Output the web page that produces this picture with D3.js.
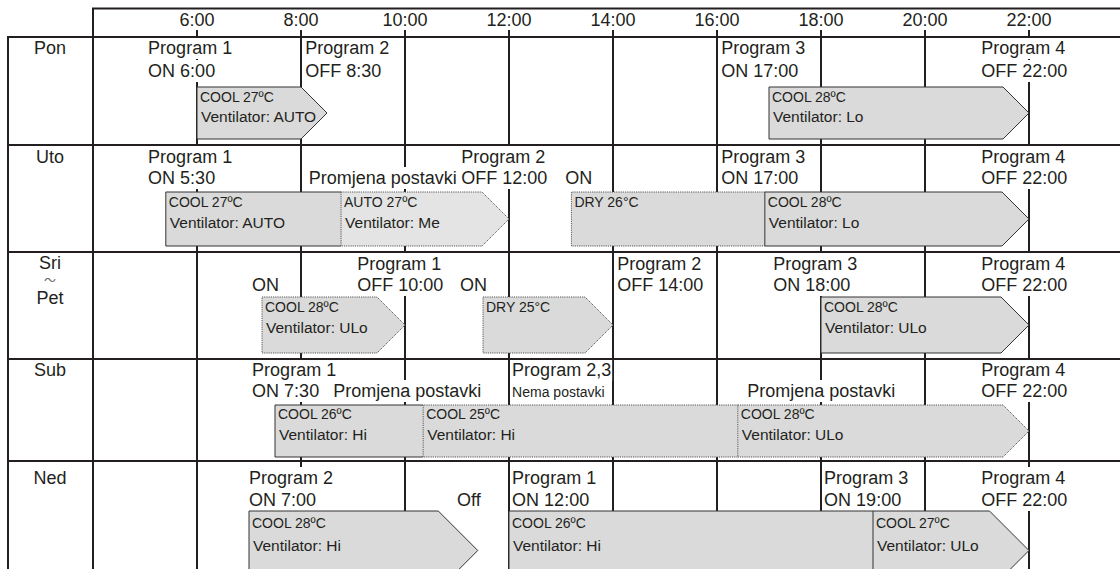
<!DOCTYPE html>
<html><head><meta charset="utf-8">
<script src="https://cdn.jsdelivr.net/npm/d3@7"></script>
<style>
html,body{margin:0;padding:0;background:#fff;}
svg{display:block;font-family:"Liberation Sans",Arial,Helvetica,sans-serif;}
</style></head><body>
<svg id="chart" width="1120" height="569"></svg>
<script>
// ---------------- data ----------------
const days = ["Pon","Uto","SriPet","Sub","Ned"];
const dayLabelLines = [["Pon"],["Uto"],["Sri","～","Pet"],["Sub"],["Ned"]];
const tickHours = [6,8,10,12,14,16,18,20,22];
const tickLabels = ["6:00","8:00","10:00","12:00","14:00","16:00","18:00","20:00","22:00"];

// text annotations: day, time where the text starts, text line (1/2), text
const annotations = [
  {day:"Pon", at:5.06, line:1, text:"Program 1"},
  {day:"Pon", at:5.06, line:2, text:"ON 6:00"},
  {day:"Pon", at:8.08, line:1, text:"Program 2"},
  {day:"Pon", at:8.08, line:2, text:"OFF 8:30"},
  {day:"Pon", at:16.08, line:1, text:"Program 3"},
  {day:"Pon", at:16.08, line:2, text:"ON 17:00"},
  {day:"Pon", at:21.08, line:1, text:"Program 4"},
  {day:"Pon", at:21.08, line:2, text:"OFF 22:00"},
  {day:"Uto", at:5.06, line:1, text:"Program 1"},
  {day:"Uto", at:5.06, line:2, text:"ON 5:30"},
  {day:"Uto", at:8.15, line:2, text:"Promjena postavki"},
  {day:"Uto", at:11.08, line:1, text:"Program 2"},
  {day:"Uto", at:11.08, line:2, text:"OFF 12:00"},
  {day:"Uto", at:13.08, line:2, text:"ON"},
  {day:"Uto", at:16.08, line:1, text:"Program 3"},
  {day:"Uto", at:16.08, line:2, text:"ON 17:00"},
  {day:"Uto", at:21.08, line:1, text:"Program 4"},
  {day:"Uto", at:21.08, line:2, text:"OFF 22:00"},
  {day:"SriPet", at:7.06, line:2, text:"ON"},
  {day:"SriPet", at:9.08, line:1, text:"Program 1"},
  {day:"SriPet", at:9.08, line:2, text:"OFF 10:00"},
  {day:"SriPet", at:11.06, line:2, text:"ON"},
  {day:"SriPet", at:14.08, line:1, text:"Program 2"},
  {day:"SriPet", at:14.08, line:2, text:"OFF 14:00"},
  {day:"SriPet", at:17.08, line:1, text:"Program 3"},
  {day:"SriPet", at:17.08, line:2, text:"ON 18:00"},
  {day:"SriPet", at:21.08, line:1, text:"Program 4"},
  {day:"SriPet", at:21.08, line:2, text:"OFF 22:00"},
  {day:"Sub", at:7.06, line:1, text:"Program 1"},
  {day:"Sub", at:7.06, line:2, text:"ON 7:30"},
  {day:"Sub", at:8.62, line:2, text:"Promjena postavki"},
  {day:"Sub", at:12.06, line:1, text:"Program 2,3"},
  {day:"Sub", at:12.06, line:2, text:"Nema postavki", small:true},
  {day:"Sub", at:16.58, line:2, text:"Promjena postavki"},
  {day:"Sub", at:21.08, line:1, text:"Program 4"},
  {day:"Sub", at:21.08, line:2, text:"OFF 22:00"},
  {day:"Ned", at:7.0, line:1, text:"Program 2"},
  {day:"Ned", at:7.0, line:2, text:"ON 7:00"},
  {day:"Ned", at:11.0, line:2, text:"Off"},
  {day:"Ned", at:12.06, line:1, text:"Program 1"},
  {day:"Ned", at:12.06, line:2, text:"ON 12:00"},
  {day:"Ned", at:18.06, line:1, text:"Program 3"},
  {day:"Ned", at:18.06, line:2, text:"ON 19:00"},
  {day:"Ned", at:21.08, line:1, text:"Program 4"},
  {day:"Ned", at:21.08, line:2, text:"OFF 22:00"}
];

// operating segments: day, bar id, start/end hour, mode text, fan text, manual change?
const segments = [
  {day:"Pon", bar:"a", from:6,    to:8.5,  mode:"COOL 27ºC", fan:"Ventilator: AUTO", manual:false},
  {day:"Pon", bar:"b", from:17,   to:22,   mode:"COOL 28ºC", fan:"Ventilator: Lo",   manual:false},
  {day:"Uto", bar:"c", from:5.4,  to:8.77, mode:"COOL 27ºC", fan:"Ventilator: AUTO", manual:false},
  {day:"Uto", bar:"c", from:8.77, to:12,   mode:"AUTO 27ºC", fan:"Ventilator: Me",   manual:true},
  {day:"Uto", bar:"d", from:13.2, to:16.92,mode:"DRY 26°C",  fan:"",                 manual:true},
  {day:"Uto", bar:"d", from:16.92,to:22,   mode:"COOL 28ºC", fan:"Ventilator: Lo",   manual:false},
  {day:"SriPet", bar:"e", from:7.25, to:10,  mode:"COOL 28ºC", fan:"Ventilator: ULo", manual:true},
  {day:"SriPet", bar:"f", from:11.5, to:14,  mode:"DRY 25°C",  fan:"",                manual:true},
  {day:"SriPet", bar:"g", from:18,   to:22,  mode:"COOL 28ºC", fan:"Ventilator: ULo", manual:false},
  {day:"Sub", bar:"h", from:7.5,  to:10.35, mode:"COOL 26ºC", fan:"Ventilator: Hi",  manual:false},
  {day:"Sub", bar:"h", from:10.35,to:16.4,  mode:"COOL 25ºC", fan:"Ventilator: Hi",  manual:true},
  {day:"Sub", bar:"h", from:16.4, to:22,    mode:"COOL 28ºC", fan:"Ventilator: ULo", manual:true},
  {day:"Ned", bar:"i", from:7,    to:11.4,  mode:"COOL 28ºC", fan:"Ventilator: Hi",  manual:false},
  {day:"Ned", bar:"j", from:12,   to:19,    mode:"COOL 26ºC", fan:"Ventilator: Hi",  manual:false},
  {day:"Ned", bar:"j", from:19,   to:22,    mode:"COOL 27ºC", fan:"Ventilator: ULo", manual:false}
];

// ---------------- layout ----------------
const W = 1120, H = 569;
const ink = "#231f20";
const x = d3.scaleLinear().domain([4, 23.75]).range([93, 1120]);
const rowTop    = d3.scaleOrdinal().domain(days).range([37,145,252,359,461]);
const line1Y    = d3.scaleOrdinal().domain(days).range([54,163,270,376,484]);
const line2Y    = d3.scaleOrdinal().domain(days).range([77,184,291,397,506]);
const boxTop    = d3.scaleOrdinal().domain(days).range([87,192,297,405,511]);
const boxBottom = d3.scaleOrdinal().domain(days).range([139,246,353,457,590]);
const modeDy    = d3.scaleOrdinal().domain(days).range([15,15,15,14,17]);
const fanDy     = d3.scaleOrdinal().domain(days).range([35,36,36,35,40]);

const svg = d3.select("#chart");
svg.append("rect").attr("width",W).attr("height",H).attr("fill","#fff");

// ---------------- vertical grid ----------------
const vgrid = svg.append("g").attr("stroke",ink).attr("stroke-width",2);
vgrid.append("line").attr("x1",8).attr("x2",8).attr("y1",36).attr("y2",H);
vgrid.append("line").attr("x1",x(4)).attr("x2",x(4)).attr("y1",8).attr("y2",H);
vgrid.selectAll("line.tick").data(tickHours).join("line").attr("class","tick")
  .attr("x1",d=>x(d)).attr("x2",d=>x(d)).attr("y1",30).attr("y2",H);

// header labels
svg.append("g").selectAll("text").data(tickHours).join("text")
  .attr("x",d=>x(d)).attr("y",26).attr("text-anchor","middle")
  .attr("font-size",18).attr("fill",ink)
  .text((d,i)=>tickLabels[i]);

// day labels
days.forEach((d,i)=>{
  const lines = dayLabelLines[i];
  const g = svg.append("g").attr("fill",ink);
  if(lines.length===1){
    g.append("text").attr("x",50).attr("y",line1Y(d)).attr("text-anchor","middle")
     .attr("font-size",18).text(lines[0]);
  } else {
    g.append("text").attr("x",50).attr("y",line1Y(d)-1).attr("text-anchor","middle")
     .attr("font-size",18).text(lines[0]);
    g.append("text").attr("x",50).attr("y",line1Y(d)+15).attr("text-anchor","middle")
     .attr("font-size",12).attr("font-family","'Noto Sans CJK JP','Noto Sans CJK SC',sans-serif")
     .attr("fill","#666").text(lines[1]);
    g.append("text").attr("x",50).attr("y",line1Y(d)+34).attr("text-anchor","middle")
     .attr("font-size",18).text(lines[2]);
  }
});

// annotations with white background that hides grid lines
const annG = svg.append("g");
annotations.forEach(a=>{
  const g = annG.append("g");
  const t = g.append("text")
    .attr("x", x(a.at))
    .attr("y", a.line===1 ? line1Y(a.day) : line2Y(a.day))
    .attr("font-size", a.small ? 14 : 18)
    .attr("fill", ink)
    .text(a.text);
  const b = t.node().getBBox();
  g.insert("rect","text").attr("x",b.x-1).attr("y",b.y-1).attr("width",b.width+2)
    .attr("height",b.height+2).attr("fill","#fff");
});

// ---------------- horizontal grid ----------------
const hgrid = svg.append("g").attr("stroke",ink).attr("stroke-width",2);
hgrid.append("line").attr("x1",x(4)-1).attr("x2",W).attr("y1",8.5).attr("y2",8.5);
hgrid.selectAll("line.row").data(days).join("line").attr("class","row")
  .attr("x1",7).attr("x2",W).attr("y1",d=>rowTop(d)).attr("y2",d=>rowTop(d));

// ---------------- bars ----------------
const barsG = svg.append("g");
const bars = d3.groups(segments, d=>d.bar);
bars.forEach(([id, segs])=>{
  const g = barsG.append("g");
  const day = segs[0].day;
  const y0 = boxTop(day), y1 = boxBottom(day), ym = (y0+y1)/2, half = (y1-y0)/2;
  const n = segs.length;
  segs.forEach((s,i)=>{
    const last = i===n-1;
    const x0 = x(s.from), x1 = x(s.to);
    let fillPts, outline;
    if(last){
      const sh = x1 - half;
      fillPts = [[x0,y0],[sh,y0],[x1,ym],[sh,y1],[x0,y1]];
      outline = d3.line()(fillPts) + "Z";
    } else {
      fillPts = [[x0,y0],[x1,y0],[x1,y1],[x0,y1]];
      outline = d3.line()([[x1,y0],[x0,y0],[x0,y1],[x1,y1]]);
    }
    s._fill = d3.line()(fillPts)+"Z";
    s._outline = outline;
  });
  g.selectAll("path.fill").data(segs).join("path").attr("class","fill")
    .attr("d",s=>s._fill).attr("fill",s=>s.mode.startsWith("AUTO")?"#e4e4e4":"#dadada").attr("stroke","none");
  g.selectAll("path.edge").data(segs).join("path").attr("class","edge")
    .attr("d",s=>s._outline).attr("fill","none")
    .attr("stroke", s=>s.manual?"#555":"#333")
    .attr("stroke-width",1)
    .attr("stroke-dasharray", s=>s.manual?"1.2,1":null);
  g.selectAll("text.mode").data(segs).join("text").attr("class","mode")
    .attr("x",s=>x(s.from)+3).attr("y",y0+modeDy(day))
    .attr("font-size",14).attr("fill",ink).text(s=>s.mode);
  g.selectAll("text.fan").data(segs.filter(s=>s.fan)).join("text").attr("class","fan")
    .attr("x",s=>x(s.from)+4).attr("y",y0+fanDy(day))
    .attr("font-size",15.5).attr("fill",ink).text(s=>s.fan);
});
</script>
</body></html>
